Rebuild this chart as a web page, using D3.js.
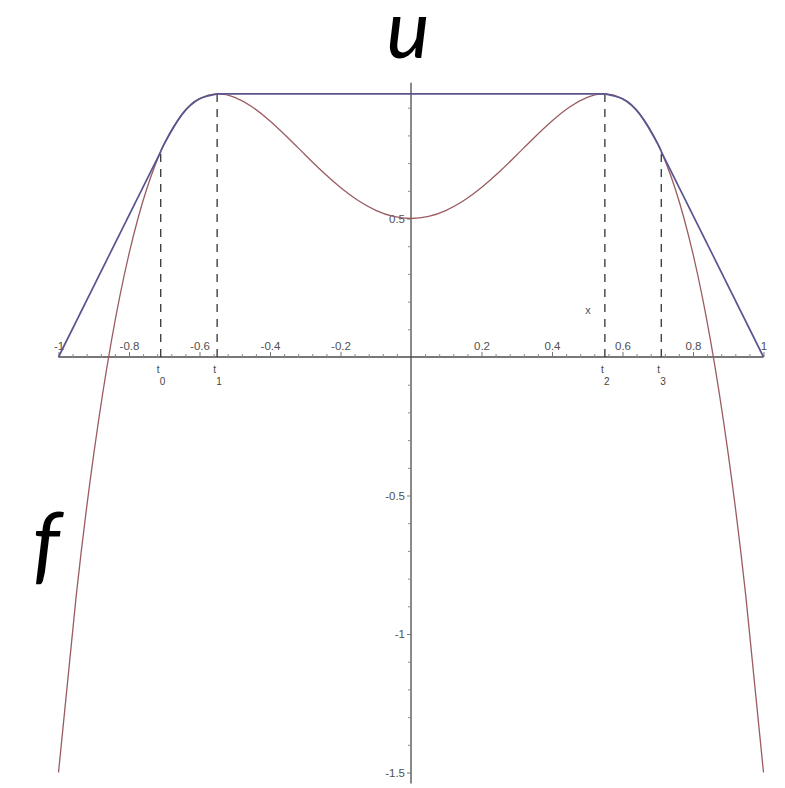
<!DOCTYPE html>
<html>
<head>
<meta charset="utf-8">
<script src="https://cdn.jsdelivr.net/npm/d3@7/dist/d3.min.js"></script>
<style>
  html, body { margin: 0; padding: 0; background: #fff; }
  svg { display: block; }
  .tick text { font-family: "Liberation Sans", Arial, sans-serif; font-size: 11.5px; fill: #505050; }
</style>
</head>
<body>
<svg id="chart" width="785" height="788"></svg>
<script>
// f sampled on [-1, 1]
const fX = [-1, -0.95, -0.9, -0.85, -0.8, -0.75, -0.7, -0.65, -0.6, -0.55, -0.5, -0.45, -0.4, -0.35, -0.3, -0.25, -0.2, -0.15, -0.1, -0.05,
            0, 0.05, 0.1, 0.15, 0.2, 0.25, 0.3, 0.35, 0.4, 0.45, 0.5, 0.55, 0.6, 0.65, 0.7, 0.75, 0.8, 0.85, 0.9, 0.95, 1];
const fY = [-1.5, -0.865, -0.3505, 0.0575, 0.372, 0.6055, 0.7695, 0.875, 0.932, 0.95, 0.9375, 0.9025, 0.852, 0.7925, 0.7295, 0.668, 0.612, 0.565, 0.5295, 0.5075,
            0.5, 0.5075, 0.5295, 0.565, 0.612, 0.668, 0.7295, 0.7925, 0.852, 0.9025, 0.9375, 0.95, 0.932, 0.875, 0.7695, 0.6055, 0.372, 0.0575, -0.3505, -0.865, -1.5];

// breakpoints of the envelope u
const tNames = ["0", "1", "2", "3"];
const tX = [-0.71, -0.55, 0.55, 0.71];
const tY = [0.7417, 0.95, 0.95, 0.7417];
const uEnds = [[-1, 0], [1, 0]];

// axis ticks
const xMajor = [-1, -0.8, -0.6, -0.4, -0.2, 0.2, 0.4, 0.6, 0.8, 1];
const xMinor = [-0.96, -0.92, -0.88, -0.84, -0.76, -0.72, -0.68, -0.64, -0.56, -0.52, -0.48, -0.44, -0.36, -0.32, -0.28, -0.24,
                -0.16, -0.12, -0.08, -0.04, 0.04, 0.08, 0.12, 0.16, 0.24, 0.28, 0.32, 0.36, 0.44, 0.48, 0.52, 0.56,
                0.64, 0.68, 0.72, 0.76, 0.84, 0.88, 0.92, 0.96];
const yMajor = [0.5, -0.5, -1, -1.5];
const yMinor = [0.9, 0.8, 0.7, 0.6, 0.4, 0.3, 0.2, 0.1, -0.1, -0.2, -0.3, -0.4, -0.6, -0.7, -0.8, -0.9, -1.1, -1.2, -1.3, -1.4];

const svg = d3.select("#chart");
const x = d3.scaleLinear().domain([-1, 1]).range([58.5, 763.5]);
const y = d3.scaleLinear().domain([-1.5, 1]).range([772.5, 80]);

const axisColor = "#4a4a4a";
const fmt = d => String(d);   // plain hyphen-minus, as in "-0.8"

// x axis
const gx = svg.append("g").attr("transform", `translate(0,${y(0)})`);
gx.append("line").attr("x1", x(-1)).attr("x2", x(1)).attr("stroke", axisColor).attr("stroke-width", 1.3);
gx.append("g").call(d3.axisTop(x).tickValues(xMinor).tickSize(3).tickSizeOuter(0).tickFormat(""))
  .call(g => g.select(".domain").remove())
  .call(g => g.selectAll("line").attr("stroke", "#888"));
gx.append("g").call(d3.axisTop(x).tickValues(xMajor).tickSize(5).tickPadding(2).tickSizeOuter(0).tickFormat(fmt))
  .call(g => g.select(".domain").remove())
  .call(g => g.selectAll("line").attr("stroke", "#777"));

// y axis
const gy = svg.append("g").attr("transform", `translate(${x(0)},0)`);
gy.append("line").attr("y1", y(0.99)).attr("y2", y(-1.54)).attr("stroke", axisColor).attr("stroke-width", 1.3);
gy.append("g").call(d3.axisLeft(y).tickValues(yMinor).tickSize(3).tickSizeOuter(0).tickFormat(""))
  .call(g => g.select(".domain").remove())
  .call(g => g.selectAll("line").attr("stroke", "#888"));
gy.append("g").call(d3.axisLeft(y).tickValues(yMajor).tickSize(4).tickPadding(2).tickSizeOuter(0).tickFormat(fmt))
  .call(g => g.select(".domain").remove())
  .call(g => g.selectAll("line").attr("stroke", "#777"));

// axis name
svg.append("text").attr("x", 588).attr("y", 314).attr("text-anchor", "middle")
  .attr("font-family", "Liberation Sans, Arial, sans-serif").attr("font-size", 11).attr("fill", "#555").text("x");

// dashed verticals at t_i
svg.append("g").selectAll("line").data(tX).join("line")
  .attr("x1", d => x(d)).attr("x2", d => x(d))
  .attr("y1", y(0)).attr("y2", (d, i) => y(tY[i]))
  .attr("stroke", "#333").attr("stroke-width", 1.3).attr("stroke-dasharray", "8,7");

// t_i labels
const tl = svg.append("g").attr("font-family", "Liberation Sans, Arial, sans-serif").attr("fill", "#444");
tl.selectAll("text.t").data(tX).join("text").attr("class", "t")
  .attr("x", d => x(d) - 4).attr("y", 373).attr("font-size", 10).text("t");
tl.selectAll("text.s").data(tX).join("text").attr("class", "s")
  .attr("x", d => x(d) - 1).attr("y", 385).attr("font-size", 10).text((d, i) => tNames[i]);

// f
const fPts = fX.map((v, i) => [v, fY[i]]);
const smooth = d3.line().x(d => x(d[0])).y(d => y(d[1])).curve(d3.curveNatural);
const straight = d3.line().x(d => x(d[0])).y(d => y(d[1]));
svg.append("path").attr("d", smooth(fPts)).attr("fill", "none")
  .attr("stroke", "#9a5c62").attr("stroke-width", 1.3);

// u: chords, arcs of f, and the flat top
const uColor = "#5a5590";
const arc = (a, b) => [[tX[a], tY[a]], ...fPts.filter(p => p[0] > tX[a] && p[0] < tX[b]), [tX[b], tY[b]]];
const uParts = [
  { d: straight([uEnds[0], [tX[0], tY[0]]]) },
  { d: smooth(arc(0, 1)) },
  { d: straight([[tX[1], tY[1]], [tX[2], tY[2]]]) },
  { d: smooth(arc(2, 3)) },
  { d: straight([[tX[3], tY[3]], uEnds[1]]) }
];
svg.append("g").selectAll("path").data(uParts).join("path")
  .attr("d", p => p.d).attr("fill", "none").attr("stroke", uColor).attr("stroke-width", 1.7);

// curve names
svg.append("text").attr("x", 408).attr("y", 58).attr("text-anchor", "middle")
  .attr("font-family", "Lato, sans-serif").attr("font-style", "italic").attr("font-size", 82).text("u");
svg.append("text").attr("x", 46).attr("y", 573).attr("text-anchor", "middle")
  .attr("font-family", "Lato, sans-serif").attr("font-style", "italic").attr("font-size", 86).text("f");
</script>
</body>
</html>
